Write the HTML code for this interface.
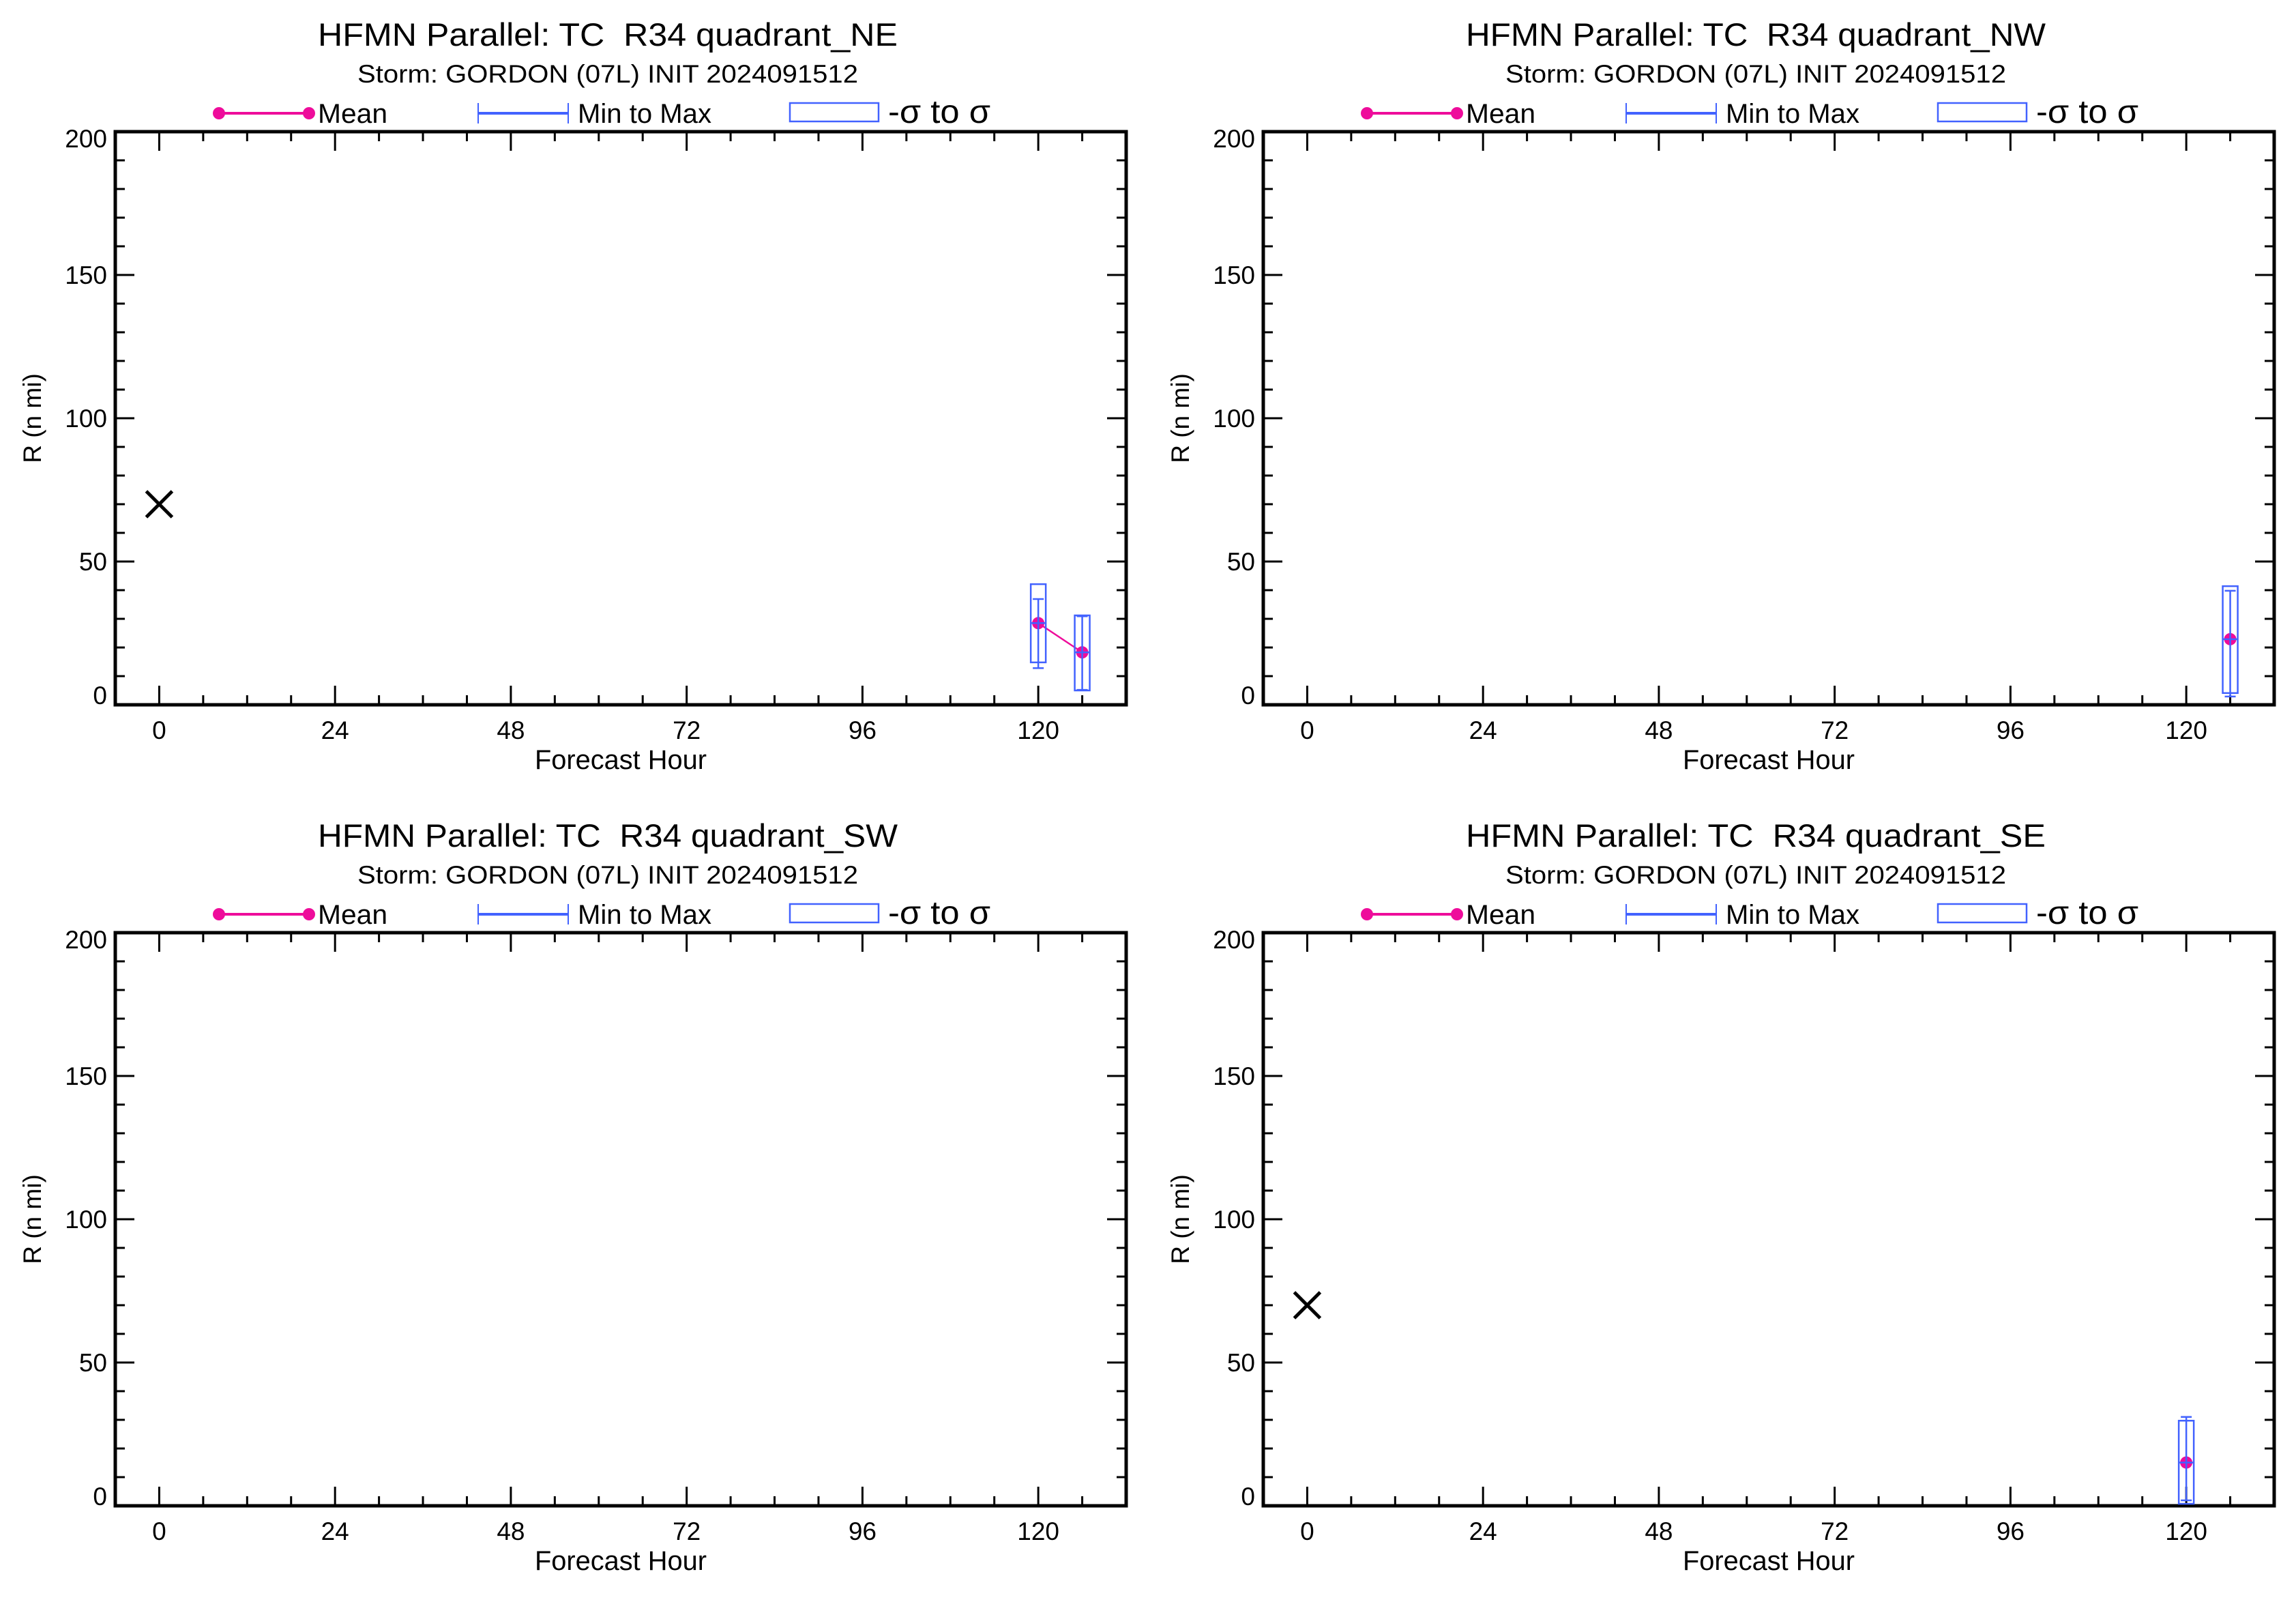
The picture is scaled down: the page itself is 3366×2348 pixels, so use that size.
<!DOCTYPE html>
<html><head><meta charset="utf-8"><style>
html,body{margin:0;padding:0;background:#fff}
svg{display:block}
text{font-family:"Liberation Sans",sans-serif;fill:#000;white-space:pre}
</style></head><body>
<svg id="chart" width="3366" height="2348" viewBox="0 0 3366 2348" xmlns="http://www.w3.org/2000/svg" xml:space="preserve"></svg>
<script>
const panelNames = ["NE","NW","SW","SE"];
const xTickLabels = [0,24,48,72,96,120];
const yTickLabels = [0,50,100,150,200];
// observed (best track) initial radius, per panel (null = none)
const obsValue = [70, null, null, 70];
// ensemble stats per panel: forecast hours, mean, sigma low/high, min, max
const hoursNE = [120,126], meanNE=[28.5,18.3], sigLoNE=[14.8,5.0], sigHiNE=[42.1,31.2], minNE=[12.8,5.2], maxNE=[36.9,30.9];
const hoursNW = [126], meanNW=[22.9], sigLoNW=[4.1], sigHiNW=[41.4], minNW=[2.9], maxNW=[39.8];
const hoursSW = [], meanSW=[], sigLoSW=[], sigHiSW=[], minSW=[], maxSW=[];
const hoursSE = [120], meanSE=[15.1], sigLoSE=[0.7], sigHiSE=[29.7], minSE=[1.9], maxSE=[31.0];
const series = [
 {h:hoursNE,m:meanNE,lo:sigLoNE,hi:sigHiNE,mn:minNE,mx:maxNE},
 {h:hoursNW,m:meanNW,lo:sigLoNW,hi:sigHiNW,mn:minNW,mx:maxNW},
 {h:hoursSW,m:meanSW,lo:sigLoSW,hi:sigHiSW,mn:minSW,mx:maxSW},
 {h:hoursSE,m:meanSE,lo:sigLoSE,hi:sigHiSE,mn:minSE,mx:maxSE}
];
const NS="http://www.w3.org/2000/svg";
const svg=document.getElementById("chart");
const MAG="#ee0c9b", BLUE="#4262ff";
function el(tag,attrs,parent,txt){const e=document.createElementNS(NS,tag);for(const k in attrs)e.setAttribute(k,attrs[k]);if(txt!==undefined)e.textContent=txt;(parent||svg).appendChild(e);return e;}
const X0=-6,X1=132,Y0=0,Y1=200;
for(let p=0;p<4;p++){
  const ox=(p%2)*1683, oy=Math.floor(p/2)*1174;
  const L=169+ox,R=1651+ox,T=193+oy,B=1033+oy;
  const sx=v=>L+(v-X0)/(X1-X0)*(R-L);
  const sy=v=>B-(v-Y0)/(Y1-Y0)*(B-T);
  const g=el("g",{});
  
  
  const cx=(L+R)/2;
  const t=el("text",{x:cx-19,y:67+oy,"text-anchor":"middle","font-size":47,textLength:850,lengthAdjust:"spacingAndGlyphs"},g,"HFMN Parallel: TC  R34 quadrant_"+panelNames[p]);
  
  
  const st=el("text",{x:cx-19,y:121+oy,"text-anchor":"middle","font-size":37,textLength:734,lengthAdjust:"spacingAndGlyphs"},g,"Storm: GORDON (07L) INIT 2024091512");
  
  
  const lg=el("g",{},g);
  
  
  const ly=166+oy;
  el("line",{x1:321+ox,y1:ly,x2:453+ox,y2:ly,stroke:MAG,"stroke-width":4},lg);
  el("circle",{cx:321+ox,cy:ly,r:9,fill:MAG},lg);el("circle",{cx:453+ox,cy:ly,r:9,fill:MAG},lg);
  const t1=el("text",{x:466+ox,y:180+oy,"font-size":40,textLength:102,lengthAdjust:"spacingAndGlyphs"},lg,"Mean");
  
  el("line",{x1:701+ox,y1:ly,x2:833+ox,y2:ly,stroke:BLUE,"stroke-width":4},lg);
  el("line",{x1:701+ox,y1:ly-15,x2:701+ox,y2:ly+15,stroke:BLUE,"stroke-width":2},lg);
  el("line",{x1:833+ox,y1:ly-15,x2:833+ox,y2:ly+15,stroke:BLUE,"stroke-width":2},lg);
  const t2=el("text",{x:847+ox,y:180+oy,"font-size":40,textLength:196,lengthAdjust:"spacingAndGlyphs"},lg,"Min to Max");
  
  el("rect",{x:1158+ox,y:151+oy,width:130,height:27,fill:"none",stroke:BLUE,"stroke-width":2.5},lg);
  const t3=el("text",{x:1302+ox,y:180+oy,"font-size":48,textLength:150,lengthAdjust:"spacingAndGlyphs"},lg,"-σ to σ");
  
  const ax=el("rect",{x:L,y:T,width:R-L,height:B-T,fill:"none",stroke:"#000","stroke-width":5},g);
  
  for(let h=0;h<=X1;h+=6){
    const major=h%24===0, len=major?28:14, x=sx(h);
    el("line",{x1:x,y1:B,x2:x,y2:B-len,stroke:"#000","stroke-width":3},g);
    el("line",{x1:x,y1:T,x2:x,y2:T+len,stroke:"#000","stroke-width":3},g);
  }
  xTickLabels.forEach(v=>{const tx=el("text",{x:sx(v),y:1083+oy,"text-anchor":"middle","font-size":37},g,String(v));
    });
  for(let v=0;v<=Y1;v+=10){
    const major=v%50===0, len=major?28:14, y=sy(v);
    el("line",{x1:L,y1:y,x2:L+len,y2:y,stroke:"#000","stroke-width":3},g);
    el("line",{x1:R,y1:y,x2:R-len,y2:y,stroke:"#000","stroke-width":3},g);
  }
  yTickLabels.forEach(v=>{let y=sy(v)+13; if(v===Y0)y-=14; if(v===Y1)y+=10;
    const ty=el("text",{x:157+ox,y:y,"text-anchor":"end","font-size":37},g,String(v));
    });
  const xt=el("text",{x:cx,y:1127+oy,"text-anchor":"middle","font-size":40,textLength:252,lengthAdjust:"spacingAndGlyphs"},g,"Forecast Hour");
  
  const yt=el("text",{x:0,y:0,"text-anchor":"middle","font-size":37,transform:`translate(${60+ox},${613+oy}) rotate(-90)`},g,"R (n mi)");
  
  if(obsValue[p]!==null){
    const x=sx(0),y=sy(obsValue[p]),s=19;
    const xm=el("path",{d:`M${x-s},${y-s}L${x+s},${y+s}M${x+s},${y-s}L${x-s},${y+s}`,stroke:"#000","stroke-width":5,fill:"none"},g);
    
  }
  const S=series[p];
  if(S.h.length>1){
    const ml=el("polyline",{points:S.h.map((h,i)=>sx(h)+","+sy(S.m[i])).join(" "),fill:"none",stroke:MAG,"stroke-width":2.5},g);
    
  }
  S.h.forEach((h,i)=>{
    const x=sx(h);
    const dot=el("circle",{cx:x,cy:sy(S.m[i]),r:9,fill:MAG},g);
    
    const bx=el("rect",{x:x-11,y:sy(S.hi[i]),width:22,height:sy(S.lo[i])-sy(S.hi[i]),fill:"none",stroke:BLUE,"stroke-width":2.5},g);
    
    const wk=el("path",{d:`M${x},${sy(S.mx[i])}L${x},${sy(S.mn[i])}M${x-8},${sy(S.mx[i])}L${x+8},${sy(S.mx[i])}M${x-8},${sy(S.mn[i])}L${x+8},${sy(S.mn[i])}M${x-11},${sy(S.m[i])}L${x+11},${sy(S.m[i])}`,stroke:BLUE,"stroke-width":2.5,fill:"none"},g);
    
  });
}
</script>
</body></html>
